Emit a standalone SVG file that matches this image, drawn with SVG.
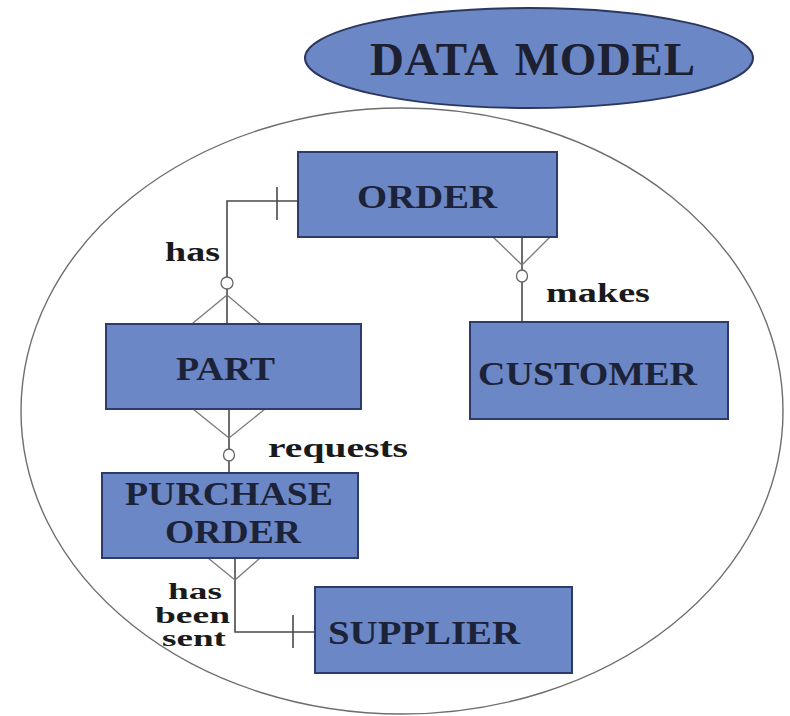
<svg xmlns="http://www.w3.org/2000/svg" width="790" height="716" viewBox="0 0 790 716">
  <style>
    .entity { fill: #6c87c6; stroke: #2c3b6c; stroke-width: 2; }
    .name { font-family: "Liberation Serif", "Times New Roman", serif; font-weight: bold; font-size: 34px; fill: #1c2338; }
    .title { font-family: "Liberation Serif", "Times New Roman", serif; font-weight: bold; font-size: 47px; fill: #1c2030; word-spacing: 6px; }
    .rel { font-family: "Liberation Serif", "Times New Roman", serif; font-weight: bold; font-size: 28px; fill: #1a1a1a; }
    .rel-sm { font-family: "Liberation Serif", "Times New Roman", serif; font-weight: bold; font-size: 23px; fill: #1a1a1a; }
    .line { fill: none; stroke: #4a4a4a; stroke-width: 1.6; }
    .foot { fill: none; stroke: #7a7a7a; stroke-width: 1.3; }
    .opt { fill: #ffffff; stroke: #666666; stroke-width: 1.3; }
  </style>

  <!-- header -->
  <g id="title">
    <ellipse cx="529" cy="58" rx="224" ry="50" fill="#6c87c6" stroke="#2c3760" stroke-width="2"/>
    <text class="title" x="370" y="75" textLength="325" lengthAdjust="spacing">DATA MODEL</text>
  </g>

  <!-- model boundary -->
  <g id="boundary">
    <ellipse cx="402" cy="411" rx="381" ry="303" fill="none" stroke="#6e6e6e" stroke-width="1.4"/>
  </g>

  <!-- relationships -->
  <g id="connectors">
    <!-- ORDER has PART -->
    <polyline class="line" points="298,201 227,201 227,323"/>
    <line class="line" x1="277" y1="187" x2="277" y2="220"/>
    <ellipse class="opt" cx="227" cy="283" rx="6" ry="6"/>
    <line class="foot" x1="227" y1="295" x2="193" y2="323"/>
    <line class="foot" x1="227" y1="295" x2="260" y2="323"/>

    <!-- CUSTOMER makes ORDER -->
    <line class="line" x1="522" y1="237" x2="522" y2="322"/>
    <line class="foot" x1="493" y1="237" x2="522" y2="265"/>
    <line class="foot" x1="550" y1="237" x2="522" y2="265"/>
    <ellipse class="opt" cx="522" cy="276" rx="5.5" ry="6"/>

    <!-- PART requests PURCHASE ORDER -->
    <line class="line" x1="229" y1="409" x2="229" y2="473"/>
    <line class="foot" x1="193" y1="409" x2="229" y2="438"/>
    <line class="foot" x1="265" y1="409" x2="229" y2="438"/>
    <ellipse class="opt" cx="229" cy="455" rx="5.5" ry="6"/>

    <!-- PURCHASE ORDER has been sent SUPPLIER -->
    <polyline class="line" points="235,558 235,632 315,632"/>
    <line class="foot" x1="208" y1="558" x2="235" y2="580"/>
    <line class="foot" x1="260" y1="558" x2="235" y2="580"/>
    <line class="line" x1="293" y1="615" x2="293" y2="648"/>
  </g>

  <!-- relationship labels -->
  <g id="labels">
    <text class="rel" x="165" y="261" textLength="55" lengthAdjust="spacingAndGlyphs">has</text>
    <text class="rel" x="546" y="302" textLength="104" lengthAdjust="spacingAndGlyphs">makes</text>
    <text class="rel" x="268" y="457" textLength="140" lengthAdjust="spacingAndGlyphs">requests</text>
    <text class="rel-sm" x="168" y="599" textLength="54" lengthAdjust="spacingAndGlyphs">has</text>
    <text class="rel-sm" x="155" y="623" textLength="75" lengthAdjust="spacingAndGlyphs">been</text>
    <text class="rel-sm" x="162" y="646" textLength="64" lengthAdjust="spacingAndGlyphs">sent</text>
  </g>

  <!-- entities -->
  <g id="order">
    <rect class="entity" x="298" y="152" width="259" height="85"/>
    <text class="name" x="357" y="208" textLength="140" lengthAdjust="spacingAndGlyphs">ORDER</text>
  </g>
  <g id="part">
    <rect class="entity" x="106" y="324" width="255" height="85"/>
    <text class="name" x="176" y="380" textLength="99" lengthAdjust="spacingAndGlyphs">PART</text>
  </g>
  <g id="customer">
    <rect class="entity" x="470" y="322" width="258" height="97"/>
    <text class="name" x="478" y="385" textLength="219" lengthAdjust="spacingAndGlyphs">CUSTOMER</text>
  </g>
  <g id="purchase-order">
    <rect class="entity" x="102" y="473" width="256" height="85"/>
    <text class="name" x="125" y="505" textLength="208" lengthAdjust="spacingAndGlyphs">PURCHASE</text>
    <text class="name" x="165" y="543" textLength="136" lengthAdjust="spacingAndGlyphs">ORDER</text>
  </g>
  <g id="supplier">
    <rect class="entity" x="315" y="587" width="257" height="86"/>
    <text class="name" x="328" y="644" textLength="192" lengthAdjust="spacingAndGlyphs">SUPPLIER</text>
  </g>
</svg>
